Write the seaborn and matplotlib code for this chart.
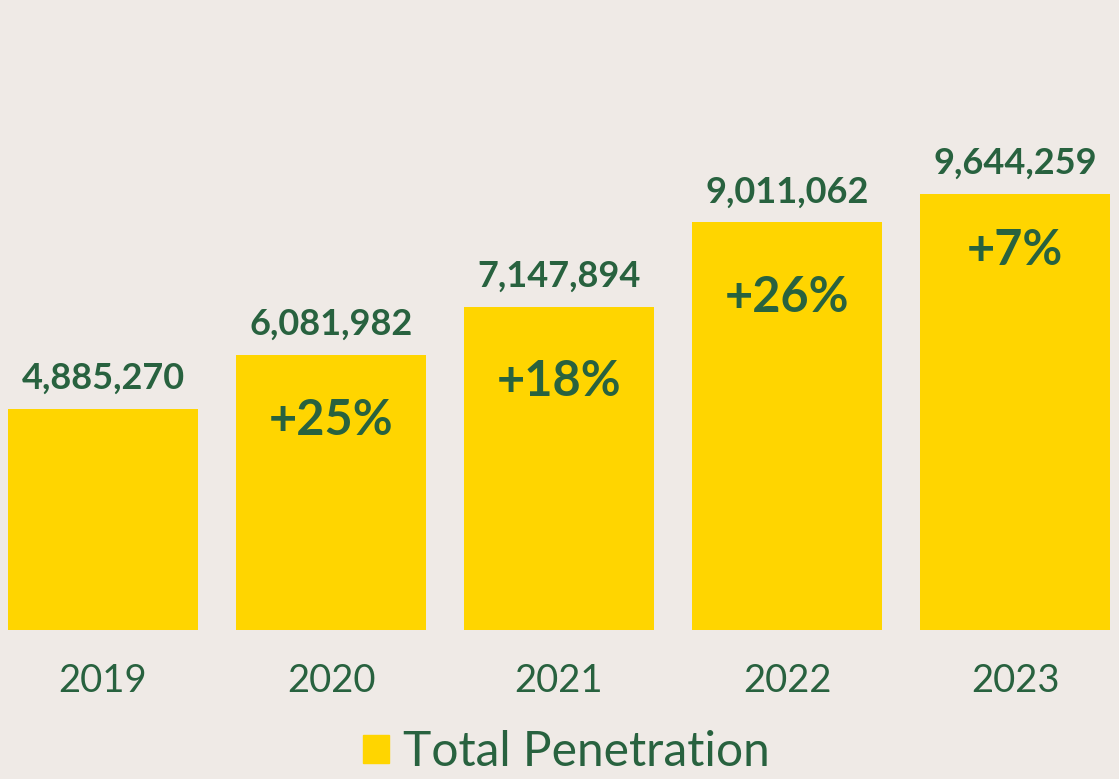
import pandas as pd
import matplotlib.pyplot as plt
import seaborn as sns

# Chart data
years = ['2019', '2020', '2021', '2022', '2023']
penetration = [4885270, 6081982, 7147894, 9011062, 9644259]
growth = ['', '+25%', '+18%', '+26%', '+7%']
series_name = 'Total Penetration'

df = pd.DataFrame({'Year': years, 'Value': penetration, 'Series': series_name})

bg = '#EFEAE6'
bar_color = '#FFD500'
text_color = '#28623F'

sns.set_theme(style='white')
plt.rcParams['font.family'] = ['Lato', 'DejaVu Sans']

fig = plt.figure(figsize=(11.19, 7.79), dpi=100, facecolor=bg)
ax = fig.add_axes([0, 149 / 779, 1, 630 / 779])
ax.set_facecolor(bg)

sns.barplot(data=df, x='Year', y='Value', hue='Series', palette=[bar_color],
            width=0.833, saturation=1, linewidth=0, ax=ax, legend=False)

ax.set_xlim(-0.452, 4.456)
ax.set_ylim(0, 13.93e6)
sns.despine(ax=ax, left=True, bottom=True)
ax.set_yticks([])
ax.set_xlabel('')
ax.set_ylabel('')
ax.tick_params(axis='x', length=0, pad=24, labelsize=27.5, labelcolor=text_color)

# value labels above bars, growth labels inside bars
growth_offset = [0, 66, 75, 75, 57]  # pixels below bar top
for i, (v, g) in enumerate(zip(penetration, growth)):
    ax.annotate(f'{v:,}', (i, v), xytext=(0, 14), textcoords='offset pixels',
                ha='center', va='bottom', fontsize=26, fontweight='bold',
                color=text_color)
    if g:
        ax.annotate(g, (i, v), xytext=(0, -growth_offset[i]), textcoords='offset pixels',
                    ha='center', va='center', fontsize=35, fontweight='bold',
                    color=text_color)

handle = plt.Rectangle((0, 0), 1, 1, color=bar_color)
leg = fig.legend([handle], [series_name], loc='center', bbox_to_anchor=(566 / 1119, 1 - 752 / 779),
                 frameon=False, fontsize=34.5, handlelength=0.55, handleheight=0.55,
                 handletextpad=0.28)
for t in leg.get_texts():
    t.set_color(text_color)

plt.savefig('out.png', dpi=100, facecolor=bg)
